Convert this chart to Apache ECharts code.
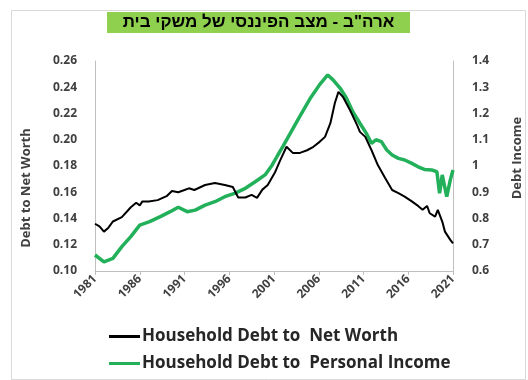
<!DOCTYPE html>
<html>
<head>
<meta charset="utf-8">
<script src="https://cdn.jsdelivr.net/npm/echarts@6/dist/echarts.min.js"></script>
<style>
  html, body { margin: 0; padding: 0; background: #fff; }
  #chart { width: 528px; height: 380px; }
</style>
</head>
<body>
<div id="chart"></div>
<script>
// US household balance sheet: debt relative to net worth and to personal income
const TITLE = 'ארה"ב - מצב הפיננסי של משקי בית';
const SERIES_NAMES = ['Household Debt to  Net Worth', 'Household Debt to  Personal Income'];
const LEFT_AXIS_NAME = 'Debt to Net Worth';
const RIGHT_AXIS_NAME = 'Debt Income';
const YEAR_TICKS = ['1981', '1986', '1991', '1996', '2001', '2006', '2011', '2016', '2021'];
const FIRST_YEAR = 1981;
const LAST_YEAR = 2021;

// [year, ratio] — debt to net worth (left axis)
const debtToNetWorth = [
  [1981.0, 0.136], [1981.5, 0.134], [1982.0, 0.130], [1982.5, 0.133], [1983.0, 0.1377],
  [1984.0, 0.141], [1985.0, 0.1486], [1985.6, 0.152], [1986.0, 0.150], [1986.3, 0.153],
  [1987.0, 0.153], [1988.0, 0.154], [1989.0, 0.157], [1989.6, 0.161], [1990.3, 0.160],
  [1991.0, 0.1617], [1991.5, 0.163], [1992.1, 0.1617], [1993.3, 0.1655], [1994.4, 0.167],
  [1995.5, 0.1655], [1996.4, 0.164], [1997.0, 0.156], [1997.8, 0.156], [1998.5, 0.158],
  [1999.1, 0.1557], [1999.7, 0.162], [2000.3, 0.1655], [2001.1, 0.175], [2001.7, 0.1845],
  [2002.4, 0.1947], [2003.1, 0.190], [2003.9, 0.190], [2004.7, 0.192], [2005.4, 0.1946],
  [2006.1, 0.1984], [2006.7, 0.2022], [2007.3, 0.2126], [2007.8, 0.228], [2008.2, 0.2365],
  [2008.7, 0.2327], [2009.5, 0.2225], [2010.3, 0.211], [2010.6, 0.206], [2011.2, 0.2022],
  [2011.9, 0.192], [2012.6, 0.1807], [2013.4, 0.171], [2014.2, 0.1617], [2014.9, 0.1594],
  [2015.6, 0.1567], [2016.4, 0.153], [2017.1, 0.1496], [2017.6, 0.1466], [2018.1, 0.1496],
  [2018.4, 0.144], [2019.0, 0.1414], [2019.3, 0.1466], [2019.8, 0.1377], [2020.1, 0.130],
  [2020.7, 0.1237], [2021.0, 0.121]
];

// [year, ratio] — debt to personal income (right axis)
const debtToIncome = [
  [1981.0, 0.661], [1982.0, 0.635], [1983.0, 0.648], [1984.0, 0.693], [1985.0, 0.731],
  [1986.0, 0.775], [1987.1, 0.788], [1988.3, 0.807], [1989.4, 0.826], [1990.3, 0.843],
  [1991.3, 0.826], [1992.2, 0.832], [1993.3, 0.851], [1994.4, 0.864], [1995.5, 0.883],
  [1996.6, 0.896], [1997.8, 0.915], [1998.9, 0.940], [2000.0, 0.966], [2000.8, 1.004],
  [2001.4, 1.040], [2002.0, 1.075], [2002.5, 1.105], [2003.9, 1.190], [2005.0, 1.255],
  [2006.1, 1.310], [2007.0, 1.347], [2007.6, 1.328], [2008.4, 1.296], [2009.1, 1.258],
  [2009.8, 1.207], [2010.6, 1.163], [2011.3, 1.125], [2011.9, 1.086], [2012.4, 1.100],
  [2013.0, 1.093], [2013.6, 1.061], [2014.2, 1.042], [2014.9, 1.029], [2015.6, 1.023],
  [2016.4, 1.010], [2017.1, 0.997], [2017.8, 0.987], [2018.6, 0.985], [2019.2, 0.978],
  [2019.5, 0.896], [2019.8, 0.966], [2020.3, 0.883], [2020.7, 0.947], [2021.0, 0.985]
];

const FONT = 'Open Sans';
const TITLE_FONT = 'Liberation Sans';
const LABEL_COLOR = '#404040';
const GREEN = '#22b05a';

// x is measured in years since FIRST_YEAR so the 5-year ticks start at 0
const toOffset = pts => pts.map(([yr, v]) => [yr - FIRST_YEAR, v]);

const chart = echarts.init(document.getElementById('chart'), null, { renderer: 'canvas' });

chart.setOption({
  backgroundColor: '#ffffff',
  animation: false,
  grid: { left: 95, right: 75, top: 61, bottom: 109 },
  graphic: [
    {
      type: 'rect', left: 9, top: 8, silent: true,
      shape: { width: 514, height: 369 },
      style: { fill: 'none', stroke: '#d9d9d9', lineWidth: 1 }
    },
    {
      type: 'rect', left: 107, top: 12, silent: true,
      shape: { width: 303, height: 21 },
      style: { fill: '#8fd14f' }
    },
    {
      type: 'text', x: 258.5, y: 22.5, silent: true,
      style: {
        text: TITLE, fill: '#000', font: 'bold 17px "' + TITLE_FONT + '"',
        align: 'center', verticalAlign: 'middle'
      }
    },
    {
      type: 'text', x: 26, y: 188, rotation: Math.PI / 2, silent: true,
      style: {
        text: LEFT_AXIS_NAME, fill: LABEL_COLOR, font: 'bold 13px "' + FONT + '"',
        align: 'center', verticalAlign: 'middle'
      }
    },
    {
      type: 'text', x: 517, y: 158, rotation: Math.PI / 2, silent: true,
      style: {
        text: RIGHT_AXIS_NAME, fill: LABEL_COLOR, font: 'bold 13px "' + FONT + '"',
        align: 'center', verticalAlign: 'middle'
      }
    }
  ],
  legend: {
    orient: 'vertical', left: 104, top: 323, itemGap: 10,
    itemWidth: 31, itemHeight: 3, icon: 'rect',
    textStyle: { fontFamily: FONT, fontWeight: 'bold', fontSize: 17, color: '#262626', padding: [0, 0, 0, -3] },
    data: SERIES_NAMES
  },
  xAxis: {
    type: 'value', min: 0, max: LAST_YEAR - FIRST_YEAR, interval: 5,
    axisLine: { show: true, lineStyle: { color: '#bfbfbf', width: 1 } },
    axisTick: { show: true, length: 4, lineStyle: { color: '#bfbfbf' } },
    splitLine: { show: false },
    axisLabel: {
      rotate: 45, margin: 6, color: LABEL_COLOR,
      fontFamily: FONT, fontWeight: 'bold', fontSize: 12,
      formatter: v => YEAR_TICKS[Math.round(v / 5)] || ''
    }
  },
  yAxis: [
    {
      type: 'value', min: 0.10, max: 0.26, interval: 0.02, position: 'left',
      axisLine: { show: true, lineStyle: { color: '#bfbfbf' } },
      axisTick: { show: false }, splitLine: { show: false },
      axisLabel: {
        margin: 18, color: LABEL_COLOR, fontFamily: FONT, fontWeight: 'bold', fontSize: 12,
        formatter: v => v.toFixed(2)
      }
    },
    {
      type: 'value', min: 0.6, max: 1.4, interval: 0.1, position: 'right',
      axisLine: { show: true, lineStyle: { color: '#bfbfbf' } },
      axisTick: { show: false }, splitLine: { show: false },
      axisLabel: {
        margin: 19, color: LABEL_COLOR, fontFamily: FONT, fontWeight: 'bold', fontSize: 12,
        formatter: v => String(Number(v.toFixed(1)))
      }
    }
  ],
  series: [
    {
      name: SERIES_NAMES[0], type: 'line', yAxisIndex: 0, showSymbol: false, symbol: 'none',
      data: toOffset(debtToNetWorth), z: 3,
      itemStyle: { color: '#000' }, lineStyle: { color: '#000', width: 2 }
    },
    {
      name: SERIES_NAMES[1], type: 'line', yAxisIndex: 1, showSymbol: false, symbol: 'none',
      data: toOffset(debtToIncome), z: 2,
      itemStyle: { color: GREEN }, lineStyle: { color: GREEN, width: 3.5 }
    }
  ]
});
</script>
</body>
</html>
